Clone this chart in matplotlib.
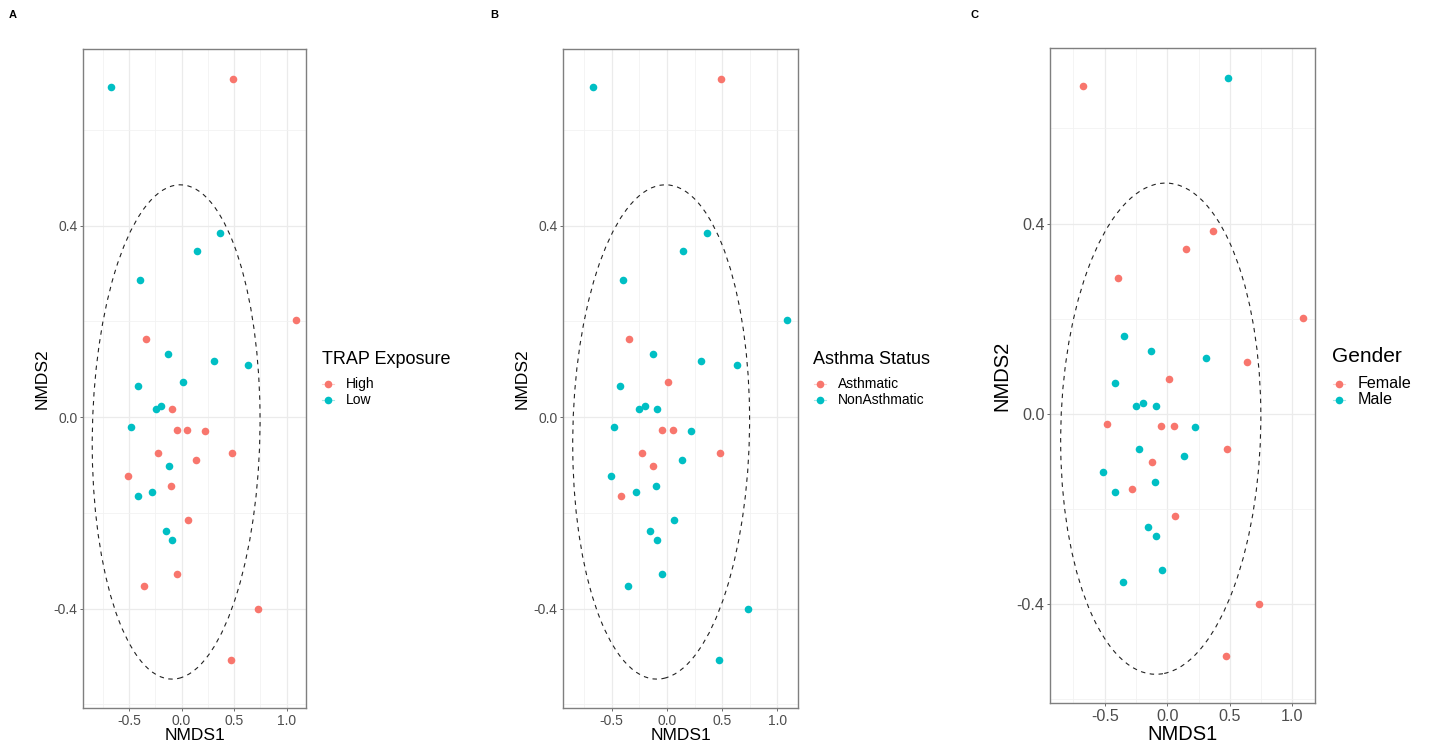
import matplotlib.pyplot as plt
from matplotlib.patches import Ellipse
from matplotlib.lines import Line2D

plt.rcParams['font.family'] = ['Liberation Sans', 'DejaVu Sans']

# NMDS scores (same ordination in every panel)
nmds1 = [-0.670, 0.488, 0.363, 0.146, -0.395, 1.086, -0.344, -0.127, 0.312, 0.634,
         -0.420, 0.010, -0.248, -0.197, -0.089, -0.478, -0.048, 0.051, 0.220, -0.229,
         0.478, 0.137, -0.124, -0.510, -0.099, -0.417, -0.283, 0.064, -0.150, -0.092,
         -0.041, -0.354, 0.732, 0.471]
nmds2 = [0.689, 0.706, 0.385, 0.346, 0.286, 0.202, 0.163, 0.132, 0.117, 0.109,
         0.066, 0.073, 0.017, 0.023, 0.017, -0.021, -0.026, -0.026, -0.028, -0.074,
         -0.074, -0.089, -0.102, -0.123, -0.144, -0.164, -0.157, -0.215, -0.237, -0.257,
         -0.328, -0.353, -0.400, -0.508]

trap = ['Low', 'High', 'Low', 'Low', 'Low', 'High', 'High', 'Low', 'Low', 'Low',
        'Low', 'Low', 'Low', 'Low', 'High', 'Low', 'High', 'High', 'High', 'High',
        'High', 'High', 'Low', 'High', 'High', 'Low', 'Low', 'High', 'Low', 'Low',
        'High', 'High', 'High', 'High']
asthma = ['NonAsthmatic', 'Asthmatic', 'NonAsthmatic', 'NonAsthmatic', 'NonAsthmatic',
          'NonAsthmatic', 'Asthmatic', 'NonAsthmatic', 'NonAsthmatic', 'NonAsthmatic',
          'NonAsthmatic', 'Asthmatic', 'NonAsthmatic', 'NonAsthmatic', 'NonAsthmatic',
          'NonAsthmatic', 'Asthmatic', 'Asthmatic', 'NonAsthmatic', 'Asthmatic',
          'Asthmatic', 'NonAsthmatic', 'Asthmatic', 'NonAsthmatic', 'NonAsthmatic',
          'Asthmatic', 'NonAsthmatic', 'NonAsthmatic', 'NonAsthmatic', 'NonAsthmatic',
          'NonAsthmatic', 'NonAsthmatic', 'NonAsthmatic', 'NonAsthmatic']
gender = ['Female', 'Male', 'Female', 'Female', 'Female', 'Female', 'Male', 'Male', 'Male', 'Female',
          'Male', 'Female', 'Male', 'Male', 'Male', 'Female', 'Female', 'Female', 'Male', 'Male',
          'Female', 'Male', 'Female', 'Male', 'Male', 'Male', 'Female', 'Female', 'Male', 'Male',
          'Male', 'Male', 'Female', 'Female']

# confidence ellipse drawn in every panel
ell_center = (-0.052, -0.031)
ell_width, ell_height, ell_angle = 1.601, 1.030, 3.07

colors = ['#F8766D', '#00BFC4']

W, H = 1432, 746
fig = plt.figure(figsize=(W / 100, H / 100), dpi=100)


def fx(x):
    return x / W


def fy(y):
    return 1 - y / H


panels = [
    # letter, letter x, box (l, t, r, b), groups, levels, legend title, legend x, marker off, label off, ylabel x, scale
    ('A', 13, (83.3, 49.3, 305.7, 708.3), trap, ['High', 'Low'], 'TRAP Exposure', 321.7, 6.3, 24, 41.7, 1.0),
    ('B', 494, (563.3, 49.3, 797.7, 708.3), asthma, ['Asthmatic', 'NonAsthmatic'], 'Asthma Status', 813.3, 6.7, 24.4, 521.7, 1.0),
    ('C', 974, (1050, 48.4, 1315.3, 703.3), gender, ['Female', 'Male'], 'Gender', 1331.7, 7.3, 26.3, 1001.7, 1.16),
]

for letter, letter_x, box, groups, levels, leg_title, leg_x, m_off, l_off, ylab_x, sc in panels:
    l, t, r, b = box
    ax = fig.add_axes([fx(l), fy(b), (r - l) / W, (b - t) / H])

    for lev, col in zip(levels, colors):
        xs = [x for x, g in zip(nmds1, groups) if g == lev]
        ys = [y for y, g in zip(nmds2, groups) if g == lev]
        ax.scatter(xs, ys, s=30, color=col, linewidths=0, zorder=3)

    ax.add_patch(Ellipse(ell_center, ell_width, ell_height, angle=ell_angle, fill=False,
                         edgecolor='#222222', linewidth=0.8, linestyle=(0, (4, 4)), zorder=2))

    ax.set_xlim(-0.937, 1.183)
    ax.set_ylim(-0.608, 0.768)
    ax.set_xticks([-0.5, 0.0, 0.5, 1.0])
    ax.set_xticklabels(['-0.5', '0.0', '0.5', '1.0'])
    ax.set_yticks([-0.4, 0.0, 0.4])
    ax.set_yticklabels(['-0.4', '0.0', '0.4'])
    ax.set_xticks([-0.75, -0.25, 0.25, 0.75], minor=True)
    ax.set_yticks([-0.6, -0.2, 0.2, 0.6], minor=True)
    ax.grid(which='major', color='#EBEBEB', linewidth=0.9, zorder=0)
    ax.grid(which='minor', color='#F2F2F2', linewidth=0.6, zorder=0)
    ax.set_axisbelow(True)
    ax.tick_params(which='major', length=2.5, width=0.6, color='#555555',
                   labelsize=10 * sc, labelcolor='#4D4D4D', pad=1.5)
    ax.tick_params(which='minor', length=0)
    for sp in ax.spines.values():
        sp.set_color('#7f7f7f')
        sp.set_linewidth(1.0)

    ax.set_xlabel('NMDS1', fontsize=12.5 * sc, va='center')
    ax.set_ylabel('NMDS2', fontsize=12.5 * sc, va='center')
    ax.xaxis.set_label_coords(0.5, -(735 - b) / (b - t))
    ax.yaxis.set_label_coords((ylab_x - l) / (r - l), 0.5)

    # panel tag
    fig.text(fx(letter_x), fy(15), letter, fontsize=8, fontweight='bold', ha='center', va='center')

    # legend
    title_y = 357 if letter == 'C' else 359
    fig.text(fx(leg_x), fy(title_y), leg_title, fontsize=13 * sc, ha='left', va='center')
    for lev, col, row_y in zip(levels, colors, [384, 400]):
        mx = leg_x + m_off
        fig.add_artist(Line2D([fx(mx - 6), fx(mx + 6)], [fy(row_y), fy(row_y)],
                              transform=fig.transFigure, color=col, alpha=0.35, linewidth=0.8))
        fig.add_artist(Line2D([fx(mx)], [fy(row_y)], transform=fig.transFigure,
                              marker='o', markersize=5.5, markeredgewidth=0, color=col, linestyle='none'))
        fig.text(fx(leg_x + l_off), fy(row_y), lev, fontsize=10 * sc, ha='left', va='center')

fig.savefig('out.png', dpi=100, facecolor='white')
